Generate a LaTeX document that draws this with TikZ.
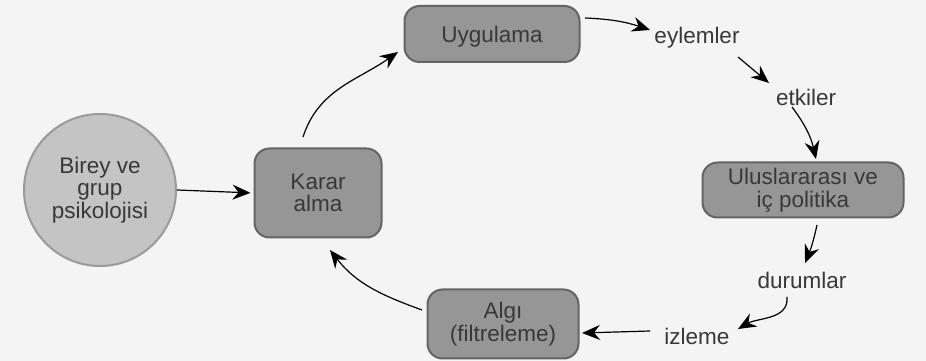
\documentclass[tikz,border=0pt]{standalone}
\usepackage{fontspec}
\setmainfont{Liberation Sans}
\usepackage{xcolor}
\usetikzlibrary{arrows.meta,calc}

\definecolor{bgcol}{HTML}{F4F4F4}
\definecolor{boxfill}{HTML}{969696}
\definecolor{boxline}{HTML}{646464}
\definecolor{circfill}{HTML}{C4C4C4}
\definecolor{circline}{HTML}{9A9A9A}
\definecolor{txtcol}{HTML}{383838}

\begin{document}
\begin{tikzpicture}[
        x=1pt, y=1pt,
        every node/.style={font=\fontsize{22.5}{22.5}\selectfont, text=txtcol},
        block/.style={draw=boxline, fill=boxfill, line width=2pt, rounded corners=15pt, align=center, inner sep=0pt},
        psych/.style={draw=circline, fill=circfill, line width=2pt, shape=circle, minimum size=152pt, align=center, inner sep=0pt},
        word/.style={inner sep=0pt},
        arrow/.style={-{Stealth[length=18pt,width=15pt,inset=6pt]}, line width=1.2pt, black}
    ]
    % Hintergrund
    \fill[bgcol] (0,0) rectangle (926,361);
    \useasboundingbox (0,0) rectangle (926,361);

    % Knoten
    \node[psych] (psy) at (100,171) {Birey ve\\grup\\psikolojisi};
    \node[block, minimum width=127pt, minimum height=89pt] (karar) at (318,168) {Karar\\alma};
    \node[block, minimum width=175pt, minimum height=56pt, text depth=0pt] (uyg) at (492,327) {Uygulama};
    \node[word] (eyl) at (697,323) {eylemler};
    \node[word] (etk) at (806,264) {etkiler};
    \node[block, minimum width=201pt, minimum height=55pt] (ulus) at (803,171) {Uluslararası ve\\iç politika};
    \node[word] (dur) at (802,81) {durumlar};
    \node[word] (izl) at (697,25) {izleme};
    \node[block, minimum width=151pt, minimum height=69pt] (algi) at (503,37) {Algı\\(filtreleme)};

    % Pfeile
    \draw[arrow, shorten >=3pt] (psy.east) -- (karar.west);
    \draw[arrow] ([shift={(-15,56)}]karar.center) to[out=72, in=215] ([shift={(-94,-18)}]uyg.center);
    \draw[arrow] ([shift={(93,16)}]uyg.center) to[bend left=8] ([shift={(-47,8)}]eyl.center);
    \draw[arrow] ([shift={(41,-19)}]eyl.center) -- ([shift={(-37,14)}]etk.center);
    \draw[arrow] ([shift={(-14,-10)}]etk.center) to[bend left=12] ([shift={(13,31)}]ulus.center);
    \draw[arrow] ([shift={(14,-35)}]ulus.center) to[bend left=5] ([shift={(3,17)}]dur.center);
    \draw[arrow] ([shift={(-15,-17)}]dur.center) to[out=-85, in=30] ([shift={(41,7)}]izl.center);
    \draw[arrow] ([shift={(-47,5)}]izl.center) -- ([shift={(79,-9)}]algi.center);
    \draw[arrow] ([shift={(-81,14)}]algi.center) to[out=160, in=-52] ([shift={(12,-57)}]karar.center);

\end{tikzpicture}
\end{document}
